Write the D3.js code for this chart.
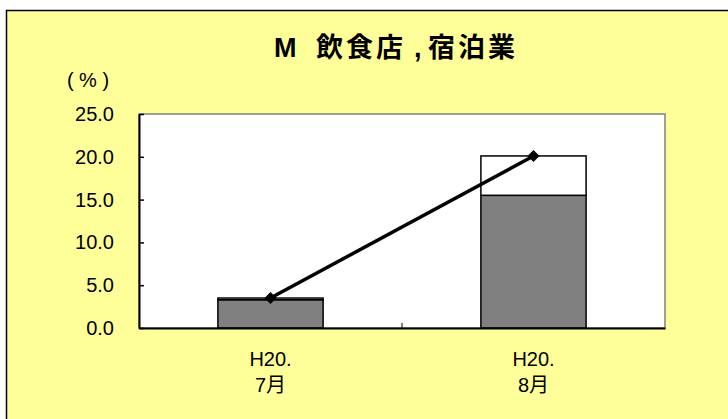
<!DOCTYPE html>
<html>
<head>
<meta charset="utf-8">
<script src="https://cdn.jsdelivr.net/npm/d3@7"></script>
<style>
  body { margin: 0; background: #ffffff; }
  svg { display: block; }
</style>
</head>
<body>
<div id="rootDiv"></div>
<script>
// data
const catYear = ["H20.", "H20."];
const catMonth = ["7月", "8月"];
const grayValues = [3.3, 15.5];
const whiteValues = [0.2, 4.6];
const lineValues = [3.5, 20.1];
const yTicks = [0, 5, 10, 15, 20, 25];

const W = 728, H = 419;
const plot = { left: 139, top: 114, right: 665, bottom: 328 };
const numFont = '"Liberation Sans", Arial, "Noto Sans CJK JP", sans-serif';

const svg = d3.select("#rootDiv").append("svg")
    .attr("width", W)
    .attr("height", H);

// chart area
svg.append("rect")
    .attr("x", 6.5).attr("y", 10.5)
    .attr("width", 760).attr("height", 440)
    .attr("fill", "#FFFF99")
    .attr("stroke", "#000")
    .attr("stroke-width", 1.5);

const cats = catMonth.map((m, i) => i);
const x = d3.scaleBand()
    .domain(cats)
    .range([plot.left, plot.right])
    .padding(0);
const y = d3.scaleLinear()
    .domain([0, 25])
    .range([plot.bottom, plot.top]);

// plot area
svg.append("rect")
    .attr("x", plot.left).attr("y", plot.top)
    .attr("width", plot.right - plot.left)
    .attr("height", plot.bottom - plot.top)
    .attr("fill", "#fff")
    .attr("stroke", "#808080")
    .attr("stroke-width", 1.5);

// stacked bars
const barW = x.bandwidth() * 0.4;
const stackRows = cats.map(i => ({ i, gray: grayValues[i], white: whiteValues[i] }));
const stacked = d3.stack().keys(["gray", "white"])(stackRows);
const fills = { gray: "#808080", white: "#ffffff" };

svg.append("g")
    .selectAll("g")
    .data(stacked)
    .join("g")
    .attr("fill", d => fills[d.key])
    .selectAll("rect")
    .data(d => d)
    .join("rect")
    .attr("x", d => x(d.data.i) + (x.bandwidth() - barW) / 2)
    .attr("y", d => y(d[1]))
    .attr("width", barW)
    .attr("height", d => y(d[0]) - y(d[1]))
    .attr("stroke", "#000")
    .attr("stroke-width", 1.5);

// axes
const yAxis = svg.append("g")
    .attr("transform", `translate(${plot.left},0)`)
    .call(d3.axisLeft(y).tickValues(yTicks).tickFormat(d3.format(".1f"))
        .tickSizeInner(-5).tickSizeOuter(0).tickPadding(25));
yAxis.select(".domain").attr("stroke", "#000").attr("stroke-width", 2);
yAxis.selectAll("line").attr("stroke", "#000").attr("stroke-width", 1.5);
yAxis.selectAll("text")
    .attr("fill", "#000")
    .style("font-family", numFont)
    .style("font-size", "20px");

const xAxis = svg.append("g")
    .attr("transform", `translate(0,${plot.bottom})`)
    .call(d3.axisBottom(x).tickSize(0).tickPadding(0).tickFormat(""));
xAxis.select(".domain").attr("stroke", "#000").attr("stroke-width", 2);

// tick between categories
svg.append("g")
    .selectAll("line")
    .data(cats.slice(1))
    .join("line")
    .attr("x1", d => x(d)).attr("x2", d => x(d))
    .attr("y1", plot.bottom).attr("y2", plot.bottom - 5)
    .attr("stroke", "#000");

// category labels
const lab = svg.append("g")
    .selectAll("text")
    .data(cats)
    .join("text")
    .attr("text-anchor", "middle")
    .attr("fill", "#000")
    .style("font-family", numFont)
    .style("font-size", "20px");
lab.append("tspan")
    .attr("x", d => x(d) + x.bandwidth() / 2)
    .attr("y", 366)
    .text(d => catYear[d]);
lab.append("tspan")
    .attr("x", d => x(d) + x.bandwidth() / 2)
    .attr("y", 392)
    .text(d => catMonth[d]);

// line series
const line = d3.line()
    .x(d => x(d) + x.bandwidth() / 2)
    .y(d => y(lineValues[d]));
svg.append("path")
    .datum(cats)
    .attr("d", line)
    .attr("fill", "none")
    .attr("stroke", "#000")
    .attr("stroke-width", 3.5);
svg.append("g")
    .selectAll("path")
    .data(cats)
    .join("path")
    .attr("d", d3.symbol(d3.symbolSquare, 72))
    .attr("transform", d => `translate(${x(d) + x.bandwidth() / 2},${y(lineValues[d])}) rotate(45)`)
    .attr("fill", "#000");

// title and unit
const title = svg.append("text")
    .attr("y", 57)
    .attr("fill", "#000")
    .style("font-family", '"Noto Sans CJK JP", sans-serif')
    .style("font-weight", "bold")
    .style("font-size", "27px");
title.append("tspan").attr("x", 274).style("font-family", numFont).text("M");
title.append("tspan").attr("x", 316).attr("letter-spacing", 3).text("飲食店");
title.append("tspan").attr("x", 414).style("font-family", numFont).text(",");
title.append("tspan").attr("x", 428).attr("letter-spacing", 3).text("宿泊業");

svg.append("text")
    .attr("x", 88)
    .attr("y", 87)
    .attr("text-anchor", "middle")
    .attr("fill", "#000")
    .style("font-family", numFont)
    .style("font-size", "20px")
    .attr("xml:space", "preserve")
    .text("( % )");
</script>
</body>
</html>
